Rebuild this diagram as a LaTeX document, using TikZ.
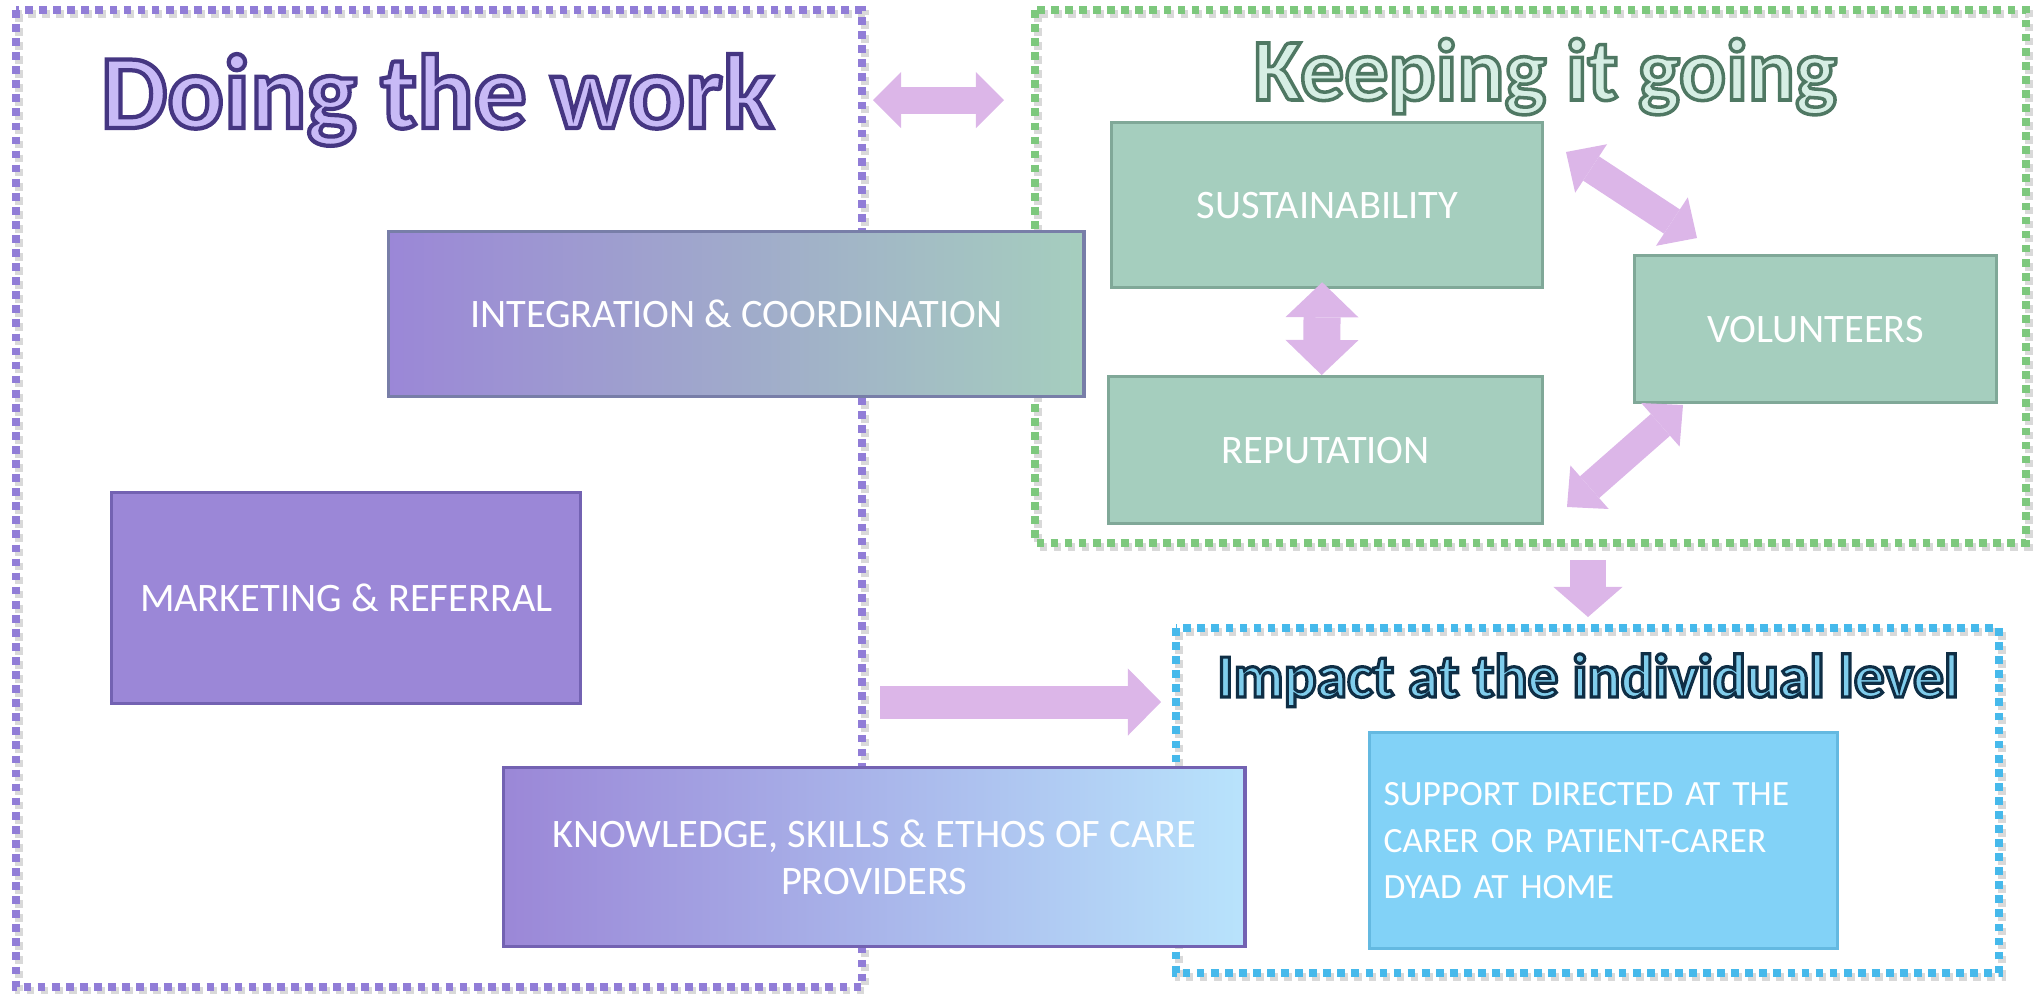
\documentclass[tikz,border=0pt]{standalone}
\usepackage[RGB]{xcolor}
\usepackage{fontspec}
\setmainfont{Carlito}
\usepackage{tikz}
\usetikzlibrary{arrows.meta}
\definecolor{P}{RGB}{155,135,215}
\definecolor{Pdark}{RGB}{115,98,178}
\definecolor{G}{RGB}{165,206,190}
\definecolor{Gdark}{RGB}{128,168,152}
\definecolor{B}{RGB}{130,210,247}
\definecolor{Bdark}{RGB}{100,185,225}
\definecolor{S}{RGB}{184,227,252}
\definecolor{A}{RGB}{220,182,232}
\definecolor{Pframe}{RGB}{145,125,215}
\definecolor{Gframe}{RGB}{125,200,125}
\definecolor{Bframe}{RGB}{70,185,235}
\definecolor{Ptitle}{RGB}{200,186,246}
\definecolor{Gtitle}{RGB}{214,238,228}
\definecolor{Btitle}{RGB}{128,205,236}
\newcommand{\drawframe}[1]{\draw[line width=2.4pt, dash pattern=on 2.2pt off 1.8pt, draw=#1]}
\newcommand{\boxtext}{\fontsize{11.5}{13.2}\selectfont}
% outlined title: size, fill colour, stroke (pdf RG values), line width, text
\newcommand{\titletext}[5]{\fontsize{#1}{#1}\selectfont\bfseries\textcolor{#2}{\special{pdf:literal direct 2 Tr #4 w #3 RG}#5\special{pdf:literal direct 0 Tr}}}

\tikzset{
  box/.style={anchor=north west, inner sep=0pt, text=white, font=\boxtext, align=center, line width=0.9pt},
  bigarrow/.style n args={3}{line width=#1, draw=A, -{Triangle[length=#2, width=#3, line width=0pt]}},
  bothway/.style n args={3}{line width=#1, draw=A, {Triangle[length=#2, width=#3, line width=0pt]}-{Triangle[length=#2, width=#3, line width=0pt]}},
}

\begin{document}
\begin{tikzpicture}[x=0.01cm, y=-0.01cm]
\useasboundingbox (0,0) rectangle (2035,993);
% dotted frames
\drawframe{gray!30} (19,14) rectangle (865,991);
\drawframe{gray!30} (1038,14) rectangle (2029,547);
\drawframe{gray!30} (1179,632) rectangle (2002,977);
\drawframe{Pframe} (16,10) rectangle (862,987);
\drawframe{Gframe} (1035,10) rectangle (2026,543);
\drawframe{Bframe} (1176,628) rectangle (1999,973);
% titles
\node[anchor=base] (worktitle) at (437,128) {\titletext{30}{Ptitle}{0.27 0.21 0.51}{1.2}{Doing the work}};
\node[anchor=base] (keeptitle) at (1545,100) {\titletext{25}{Gtitle}{0.31 0.47 0.39}{1.0}{Keeping it going}};
\node[anchor=base] (impacttitle) at (1588,697) {\titletext{17.5}{Btitle}{0.06 0.18 0.27}{0.9}{Impact at the individual level}};
% boxes
\node[box, left color=P, right color=G, draw=Pdark!60!Gdark, minimum width=6.95cm, minimum height=1.65cm] (integ) at (387,230) {INTEGRATION \& COORDINATION};
\node[box, fill=G, draw=Gdark, minimum width=4.31cm, minimum height=1.65cm] (sust) at (1110,121) {SUSTAINABILITY};
\node[box, fill=G, draw=Gdark, minimum width=4.34cm, minimum height=1.47cm] (rep) at (1107,375) {REPUTATION};
\node[box, fill=G, draw=Gdark, minimum width=3.62cm, minimum height=1.47cm] (vol) at (1633,254) {VOLUNTEERS};
\node[box, fill=P, draw=Pdark, minimum width=4.69cm, minimum height=2.11cm] (mark) at (110,491) {MARKETING \& REFERRAL};
\node[box, left color=P, right color=S, draw=Pdark, minimum width=7.41cm, minimum height=1.79cm] (know) at (502,766) {KNOWLEDGE, SKILLS \& ETHOS OF CARE\\PROVIDERS};
\node[box, fill=B, draw=Bdark, align=left, font=\fontsize{10.1}{13.2}\selectfont, inner xsep=0.14cm, text width=4.4cm, minimum height=2.16cm] (supp) at (1368,731) {SUPPORT DIRECTED AT THE\\CARER OR PATIENT-CARER\\DYAD AT HOME};
% arrows
\coordinate (w1) at (873,100);
\coordinate (w2) at (1004,100);
\coordinate (sv1) at (1566,152);
\coordinate (sv2) at (1697,238);
\coordinate (vr1) at (1683,405);
\coordinate (vr2) at (1567,507);
\coordinate (d1) at (1588,560);
\coordinate (d2) at (1588,617);
\coordinate (r1) at (880,702);
\coordinate (r2) at (1161,702);
\draw[bothway={0.27cm}{0.28cm}{0.56cm}] (w1) -- (w2);
\draw[bothway={0.29cm}{0.3cm}{0.58cm}] (sv1) -- (sv2);
\draw[bothway={0.29cm}{0.3cm}{0.58cm}] (vr1) -- (vr2);
\draw[bothway={0.37cm}{0.35cm}{0.73cm}] ([xshift=-0.05cm,yshift=0.07cm]sust.south) -- ([xshift=-0.04cm]rep.north);
\draw[bigarrow={0.35cm}{0.3cm}{0.69cm}] (d1) -- (d2);
\draw[bigarrow={0.33cm}{0.33cm}{0.67cm}] (r1) -- (r2);
\end{tikzpicture}
\end{document}
